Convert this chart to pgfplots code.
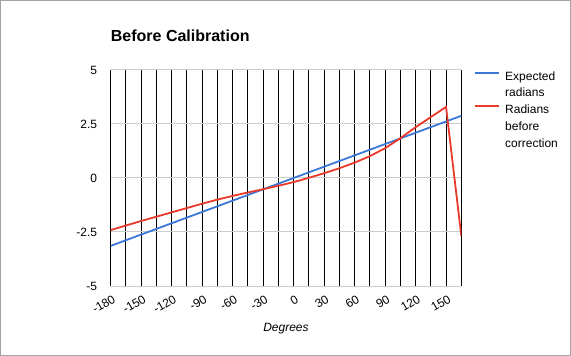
\documentclass[border=0pt]{standalone}
\usepackage{pgfplots}
\pgfplotsset{compat=1.18}
\usepackage{fontspec}
\setmainfont{Liberation Sans}
\definecolor{gblue}{HTML}{3C78D8}
\definecolor{gred}{HTML}{E8392A}
\definecolor{ggrid}{HTML}{CCCCCC}
\begin{document}
\begin{tikzpicture}
\useasboundingbox (0,0) rectangle (571bp,356bp);
\draw[draw=ggrid!80!black, line width=1bp] (0.5bp,0.5bp) rectangle (570.5bp,355.5bp);
\begin{axis}[
  at={(110.7bp,70bp)}, anchor=south west,
  scale only axis, width=350.6bp, height=216bp,
  xmin=-180, xmax=165, ymin=-5, ymax=5,
  xtick={-180,-150,...,150},
  xticklabels={-180,-150,-120,-90,-60,-30,0,30,60,90,120,150},
  minor xtick={-165,-135,...,165},
  ytick={-5,-2.5,0,2.5,5},
  yticklabels={-5,-2.5,0,2.5,5},
  extra y ticks={0}, extra y tick labels={},
  extra y tick style={grid style={black, line width=1bp}},
  xmajorgrids, xminorgrids, ymajorgrids,
  major x grid style={black, line width=1bp},
  minor x grid style={black, line width=1bp},
  major y grid style={ggrid, line width=1bp},
  axis line style={draw=none},
  tick style={draw=none},
  ticklabel style={font=\fontsize{12bp}{14bp}\selectfont},
  yticklabel style={anchor=east, inner sep=0pt, xshift=-13.4bp},
  xticklabel style={rotate=30, anchor=north east, inner sep=0pt, yshift=-8bp, xshift=-3bp},
  xlabel={Degrees},
  xlabel style={at={(axis description cs:0.5,0)}, anchor=base, yshift=-45bp, font=\fontsize{12bp}{14bp}\selectfont\itshape},
  title={Before Calibration},
  title style={at={(axis description cs:0,1)}, anchor=base west, yshift=22.7bp, inner sep=0pt, font=\fontsize{16bp}{19bp}\selectfont\bfseries},
  legend style={at={(axis description cs:1,1)}, anchor=north west, xshift=12.7bp, yshift=2bp, draw=none, fill=none, inner sep=0pt, row sep=0pt,
    nodes={inner sep=0pt, text height=12bp, text depth=4.75bp, font=\fontsize{12bp}{14bp}\selectfont}},
  legend cell align=left,
  legend image code/.code={\draw[#1, line width=2bp] (0bp,4bp) -- (24bp,4bp);},
  legend style={column sep=5bp},
]
\addplot[gblue, line width=1.8bp] coordinates {
(-180,-3.1416) (-165,-2.8798) (-150,-2.6180) (-135,-2.3562) (-120,-2.0944) (-105,-1.8326)
(-90,-1.5708) (-75,-1.3090) (-60,-1.0472) (-45,-0.7854) (-30,-0.5236) (-15,-0.2618)
(0,0) (15,0.2618) (30,0.5236) (45,0.7854) (60,1.0472) (75,1.3090)
(90,1.5708) (105,1.8326) (120,2.0944) (135,2.3562) (150,2.6180) (165,2.8798)
};
\addlegendentry{Expected}
\addlegendimage{empty legend}
\addlegendentry{radians}
\addplot[gred, line width=1.8bp] coordinates {
(-180,-2.41) (-165,-2.20) (-150,-1.99) (-135,-1.79) (-120,-1.59) (-105,-1.39)
(-90,-1.19) (-75,-1.00) (-60,-0.83) (-45,-0.67) (-30,-0.52) (-15,-0.36)
(0,-0.19) (15,0.01) (30,0.22) (45,0.45) (60,0.71) (75,1.01)
(90,1.38) (105,1.84) (120,2.35) (135,2.82) (150,3.29) (165,-2.68)
};
\addlegendentry{Radians}
\addlegendimage{empty legend}
\addlegendentry{before}
\addlegendimage{empty legend}
\addlegendentry{correction}
\end{axis}
\end{tikzpicture}
\end{document}
